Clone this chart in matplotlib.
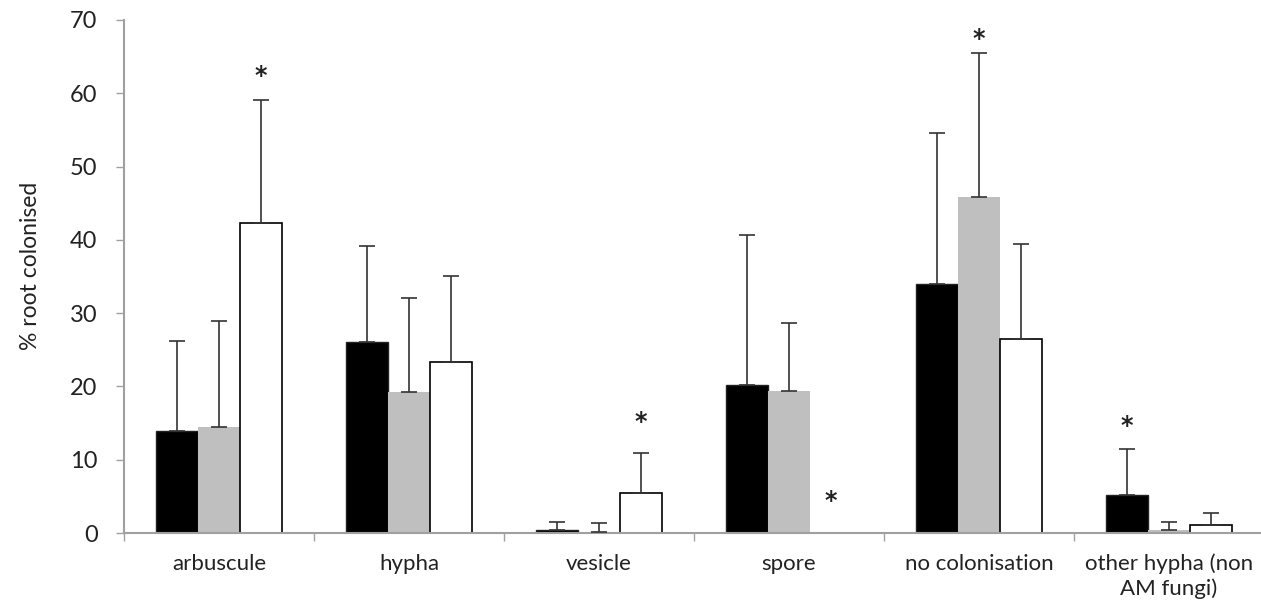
import numpy as np
import matplotlib
matplotlib.use("Agg")
import matplotlib.pyplot as plt

plt.rcParams['font.family'] = ['Lato', 'DejaVu Sans']

categories = ["arbuscule", "hypha", "vesicle", "spore", "no colonisation",
              "other hypha (non\nAM fungi)"]

# means and upper error-bar ends (% root colonised)
black_vals = [13.9, 26.0, 0.4, 20.2, 34.0, 5.2]
black_tops = [26.2, 39.2, 1.5, 40.6, 54.6, 11.4]
grey_vals = [14.5, 19.3, 0.2, 19.4, 45.8, 0.4]
grey_tops = [28.9, 32.1, 1.4, 28.6, 65.5, 1.5]
white_vals = [42.3, 23.3, 5.4, 0.0, 26.5, 1.1]
white_tops = [59.1, 35.1, 10.9, 0.0, 39.4, 2.7]

# significance stars: (category index, series index, y)
stars = [(0, 2, 62.8), (2, 2, 15.5), (3, 2, 4.8), (4, 1, 67.8), (5, 0, 15.0)]

fig = plt.figure(figsize=(12.61, 6.12), dpi=100)
ax = fig.add_axes([124 / 1261, 1 - 533 / 612, 1 - 124 / 1261, (533 - 20) / 612])

x = np.arange(len(categories))
w = 0.22
offsets = [-w, 0, w]
series = [
    (black_vals, black_tops, dict(color="black", edgecolor="#222222", linewidth=1)),
    (grey_vals, grey_tops, dict(color="#bfbfbf", edgecolor="#bfbfbf", linewidth=0)),
    (white_vals, white_tops, dict(color="white", edgecolor="black", linewidth=1.2)),
]
for off, (vals, tops, style) in zip(offsets, series):
    vals = np.array(vals)
    tops = np.array(tops)
    ax.bar(x + off, vals, width=w, zorder=2, **style)
    up = tops - vals
    mask = up > 0
    ax.errorbar(x[mask] + off, vals[mask], yerr=[np.zeros(mask.sum()), up[mask]],
                fmt="none", ecolor="#333333", elinewidth=1.2, capsize=6,
                capthick=1.2, zorder=3)

for ci, si, y in stars:
    ax.text(x[ci] + offsets[si], y - 0.4, "*", ha="center", va="center",
            fontsize=17, fontweight="bold", family="DejaVu Sans", color="#222222")

ax.set_ylim(0, 70)
ax.set_xlim(-0.5, 5.5 - 3 / 190)
ax.set_yticks(range(0, 71, 10))
ax.set_xticks(np.arange(-0.5, 5.5, 1.0))
ax.set_xticklabels([])
ax.set_xticks(x, minor=True)
ax.set_xticklabels(categories, minor=True, fontsize=16, color="#222222",
                   linespacing=1.25)
ax.tick_params(axis="x", which="minor", length=0, pad=15)
ax.tick_params(axis="x", which="major", length=6, color="#a0a0a0", width=1)
ax.tick_params(axis="y", length=6, color="#a0a0a0", width=1, labelsize=17,
               labelcolor="#222222", pad=13)

for s in ["top", "right"]:
    ax.spines[s].set_visible(False)
for s in ["left", "bottom"]:
    ax.spines[s].set_color("#a0a0a0")
    ax.spines[s].set_linewidth(1.5)

ax.set_ylabel("% root colonised", fontsize=16.5, color="#222222")
ax.yaxis.set_label_coords(-0.073, 0.52)

fig.savefig("out.png", dpi=100)
